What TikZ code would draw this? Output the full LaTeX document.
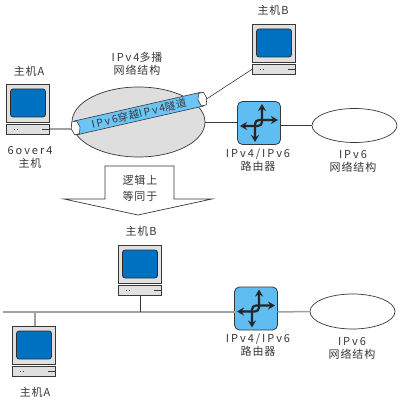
\documentclass[tikz,border=0pt]{standalone}
\usepackage{fontspec}
\usetikzlibrary{arrows.meta,shapes.geometric}
\setmainfont{Noto Sans CJK SC}
\newfontfamily\lab[LetterSpace=8]{Noto Sans CJK SC}
\newfontfamily\wide[LetterSpace=18]{Noto Sans CJK SC}
\definecolor{screenblue}{HTML}{0070C0}
\definecolor{routerblue}{HTML}{5FBDF2}
\definecolor{casegray}{HTML}{E0E0E0}
\definecolor{tunnelblue}{HTML}{6CC5F5}
\definecolor{netgray}{HTML}{DEDEDE}
\definecolor{wire}{HTML}{A0A0A0}
\definecolor{ink}{HTML}{383838}
\newcommand{\lat}[1]{{\wide #1}}
\tikzset{
  x=1pt,y=-1pt,
  lbl/.style={font=\fontsize{11}{13}\selectfont\lab,text=ink,align=center,inner sep=0pt},
  casebox/.style={draw=ink,fill=casegray,line width=0.9pt,inner sep=0pt,outer sep=0pt,minimum width=43pt},
  thickwire/.style={draw=wire,line width=1.5pt},
  thinwire/.style={draw=ink,line width=0.6pt},
  netcloud/.style={draw=ink,line width=0.7pt,ellipse,inner sep=0pt,outer sep=0pt},
  routerarrow/.style={{Stealth[length=7pt,width=8pt]}-{Stealth[length=7pt,width=8pt]},line width=2.2pt,draw=black!85,rounded corners=4pt},
  pics/computer/.style={code={
    \node[casebox,minimum height=38pt,anchor=north] (-mon) at (22,0) {};
    \node[draw=ink!80!black,fill=screenblue,rounded corners=2.5pt,line width=0.7pt,minimum width=35pt,minimum height=28pt,inner sep=0pt] at (22,19) {};
    \node[casebox,minimum height=10pt,anchor=north] (-base) at (22,40) {};
    \draw[ink,line width=0.8pt] (36,45) -- (44,45);
    \draw[ink,line width=0.8pt,dotted] (8,45) -- (12,45);
  }},
  pics/router/.style={code={
    \node[draw=ink,fill=routerblue,rounded corners=5pt,line width=0.8pt,minimum width=43pt,minimum height=43pt,inner sep=0pt,outer sep=0pt] (-box) at (0,0) {};
    \draw[routerarrow] (-19,3) -- (3,3) -- (3,-19);
    \draw[routerarrow] (19,-3) -- (-4,-3) -- (-4,19);
  }},
}
\begin{document}
\begin{tikzpicture}
\useasboundingbox[fill=white] (0,0) rectangle (403,403);
% top network
\node[netcloud,fill=netgray,minimum width=133pt,minimum height=70pt] (net4) at (138.5,122) {};
\node[netcloud,fill=white,minimum width=85pt,minimum height=34pt] (net6top) at (354.5,125.5) {};
\pic (rtop) at (259,123) {router};
\pic (hostA) at (6,84) {computer};
\pic (hostB) at (252,24) {computer};
% tunnel
\node[draw=ink,fill=tunnelblue,line width=0.6pt,rotate=12.8,minimum width=130pt,minimum height=14pt,inner sep=0pt,outer sep=0pt,font=\fontsize{10.5}{13}\selectfont\lab,text=ink] (tunnel) at (139,113.5) {\lat{IPv6}穿越\lat{IPv4}隧道};
\draw[draw=ink,fill=white,line width=0.6pt,shift={(tunnel.west)},rotate=12.8] (-4.5,0) -- (-2.5,-6.5) -- (2.5,-6.5) -- (4.5,0) -- (2.5,6.5) -- (-2.5,6.5) -- cycle;
\draw[draw=ink,fill=white,line width=0.6pt,shift={(tunnel.east)},rotate=12.8] (-4.5,0) -- (-2.5,-6.5) -- (2.5,-6.5) -- (4.5,0) -- (2.5,6.5) -- (-2.5,6.5) -- cycle;
\coordinate (tl) at ([xshift=-4.5pt]tunnel.west);
\coordinate (tr) at ([xshift=4pt]tunnel.east);
\draw[thickwire] (hostA-base.east) -- (hostA-base.east -| tl);
\draw[thinwire] (hostB-base.west) -- (tr);
\draw[thinwire] (net4.east) -- (rtop-box.west |- net4.east);
\draw[thinwire] (rtop-box.east |- net6top.west) -- (net6top.west);
% labels top
\node[lbl] (tHostA) at (29,71) {主机A};
\node[lbl] (t6o4) at (30,157) {\lat{6over4}\\主机};
\node[lbl] (tMulti) at (137,64) {\lat{IPv4}多播\\网络结构};
\node[lbl] (tHostB) at (273,10) {主机B};
\node[lbl] (tRtop) at (258,160) {\lat{IPv4/IPv6}\\路由器};
\node[lbl] (tN6top) at (353,161) {\lat{IPv6}\\网络结构};
% block arrow
\draw[draw=ink,fill=white,line width=0.7pt] (105,166) -- (174,166) -- (174,199) -- (212,199) -- (138,215) -- (64,199) -- (105,199) -- cycle;
\node[lbl] (tEq) at (140,188) {逻辑上\\[3pt]等同于};
% bottom network
\pic (hostB2) at (118,245) {computer};
\pic (hostA2) at (12,326) {computer};
\pic (rbot) at (256,308.5) {router};
\node[netcloud,fill=white,minimum width=85pt,minimum height=35pt] (net6bot) at (352.5,311.5) {};
\coordinate (busL) at (3,312);
\draw[thickwire] (busL) -- (rbot-box.west |- busL);
\draw[thickwire] (rbot-box.east |- busL) -- (net6bot.west);
\draw[thinwire] (hostB2-base.south) -- (hostB2-base.south |- busL);
\draw[thickwire] (hostA2-mon.north) ++(1,0) -- ++(0,-14);
\node[lbl] (tHostB2) at (141,231) {主机B};
\node[lbl] (tHostA2) at (35,392) {主机A};
\node[lbl] (tRbot) at (258,345) {\lat{IPv4/IPv6}\\路由器};
\node[lbl] (tN6bot) at (352,348) {\lat{IPv6}\\网络结构};
\end{tikzpicture}
\end{document}
